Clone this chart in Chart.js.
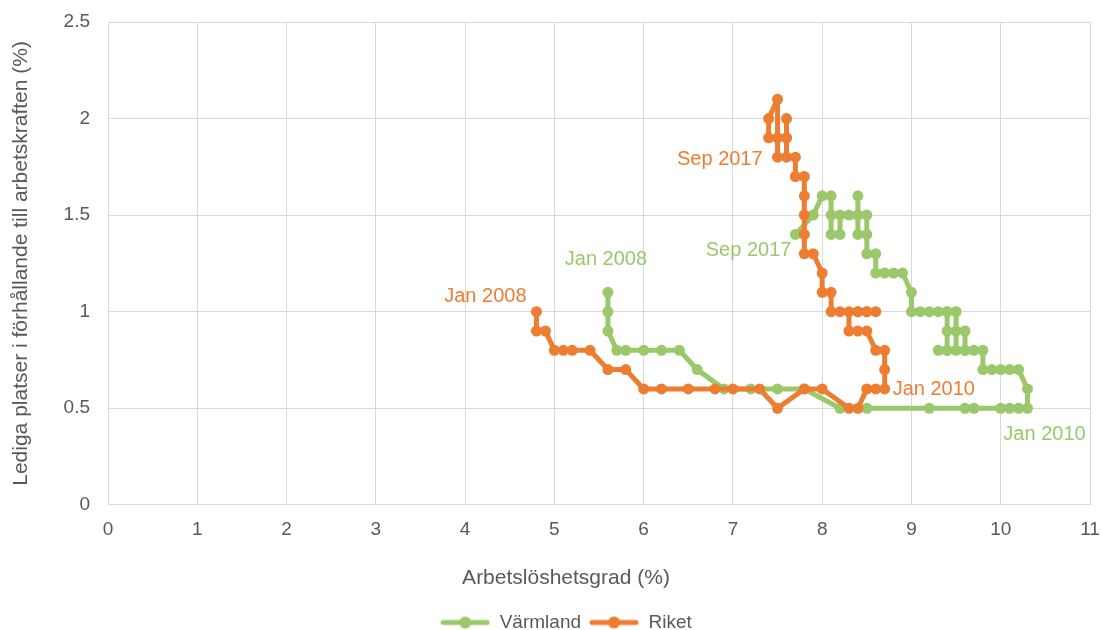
<!DOCTYPE html>
<html>
<head>
<meta charset="utf-8">
<script src="https://cdn.jsdelivr.net/npm/chart.js@4.4.1/dist/chart.umd.min.js"></script>
<style>
  html, body { margin: 0; padding: 0; background: #fff; }
  #wrap { width: 1102px; height: 630px; }
</style>
</head>
<body>
<div id="wrap"><canvas id="beveridge" width="1102" height="630"></canvas></div>
<script>
// Riket (Sweden), Jan 2008 -> Jan 2010 -> Sep 2017
const riketX = [4.8, 4.8, 4.9, 5.0, 5.1, 5.2, 5.4, 5.6, 5.8, 6.0, 6.2, 6.5, 6.8, 7.0, 7.3, 7.5, 7.8, 8.0, 8.3, 8.4, 8.5, 8.6, 8.7,
  8.7, 8.7, 8.6, 8.5, 8.4, 8.3, 8.3, 8.4, 8.5, 8.6, 8.5, 8.4, 8.2, 8.1, 8.1, 8.0, 8.0, 7.9, 7.8, 7.8, 7.8, 7.8, 7.8, 7.7, 7.7,
  7.6, 7.6, 7.6, 7.6, 7.5, 7.5, 7.5, 7.4, 7.4];
const riketY = [1.0, 0.9, 0.9, 0.8, 0.8, 0.8, 0.8, 0.7, 0.7, 0.6, 0.6, 0.6, 0.6, 0.6, 0.6, 0.5, 0.6, 0.6, 0.5, 0.5, 0.6, 0.6, 0.6,
  0.7, 0.8, 0.8, 0.9, 0.9, 0.9, 1.0, 1.0, 1.0, 1.0, 1.0, 1.0, 1.0, 1.0, 1.1, 1.1, 1.2, 1.3, 1.3, 1.4, 1.5, 1.6, 1.7, 1.7, 1.8,
  1.8, 1.9, 2.0, 1.9, 1.9, 1.8, 2.1, 2.0, 1.9];

// Värmland, same period
const varmlandX = [5.6, 5.6, 5.6, 5.7, 5.8, 6.0, 6.2, 6.4, 6.6, 6.9, 7.2, 7.5, 7.8, 8.2, 8.5, 9.2, 9.6, 9.7, 10.0, 10.1, 10.2, 10.3,
  10.3, 10.2, 10.1, 10.0, 9.9, 9.8, 9.8, 9.7, 9.6, 9.6, 9.6, 9.5, 9.5, 9.5, 9.4, 9.4, 9.4, 9.3, 9.4, 9.4, 9.3, 9.2, 9.1, 9.0, 9.0,
  8.9, 8.8, 8.7, 8.6, 8.6, 8.5, 8.5, 8.5, 8.4, 8.4, 8.4, 8.4, 8.3, 8.2, 8.2, 8.1, 8.1, 8.1, 8.0, 7.9, 7.7];
const varmlandY = [1.1, 1.0, 0.9, 0.8, 0.8, 0.8, 0.8, 0.8, 0.7, 0.6, 0.6, 0.6, 0.6, 0.5, 0.5, 0.5, 0.5, 0.5, 0.5, 0.5, 0.5, 0.5,
  0.6, 0.7, 0.7, 0.7, 0.7, 0.7, 0.8, 0.8, 0.8, 0.9, 0.8, 0.8, 0.9, 1.0, 1.0, 0.9, 0.8, 0.8, 0.8, 1.0, 1.0, 1.0, 1.0, 1.0, 1.1,
  1.2, 1.2, 1.2, 1.2, 1.3, 1.3, 1.4, 1.5, 1.5, 1.4, 1.6, 1.5, 1.5, 1.5, 1.4, 1.4, 1.5, 1.6, 1.6, 1.5, 1.4];

const seriesNames = ['Riket', 'Värmland'];
const xTicks = [0, 1, 2, 3, 4, 5, 6, 7, 8, 9, 10, 11];
const yTicks = [0, 0.5, 1, 1.5, 2, 2.5];
const periodLabels = ['Jan 2008', 'Jan 2010', 'Sep 2017'];

const ORANGE = '#ED7D31';
const GREEN = '#9BC86A';
const GREY = '#595959';
const FONT = "'Liberation Sans', Arial, sans-serif";

function toPoints(xs, ys) {
    return xs.map((x, i) => ({ x: x, y: ys[i] }));
}

// little line+dot swatch for the legend, like the office legend
function swatch(color) {
    const c = document.createElement('canvas');
    c.width = 50; c.height = 14;
    const g = c.getContext('2d');
    g.strokeStyle = color; g.lineWidth = 5; g.lineCap = 'round';
    g.beginPath(); g.moveTo(3, 7); g.lineTo(47, 7); g.stroke();
    g.fillStyle = color;
    g.beginPath(); g.arc(25, 7, 6, 0, Math.PI * 2); g.fill();
    return c;
}

// period labels next to chosen points: [dataset, index(-1 = last), text, align, dx, dy]
const labelSpots = [
    [0, 0, periodLabels[0], 'right', -10, -15],
    [0, 22, periodLabels[1], 'left', 8, 1],
    [0, -1, periodLabels[2], 'right', -6, 22],
    [1, 0, periodLabels[0], 'center', -2, -33],
    [1, 21, periodLabels[1], 'center', 17, 26],
    [1, -1, periodLabels[2], 'right', -4, 16]
];

const pointLabels = {
    id: 'pointLabels',
    afterDatasetsDraw(chart) {
        const ctx = chart.ctx;
        ctx.save();
        ctx.font = '20px ' + FONT;
        ctx.textBaseline = 'middle';
        labelSpots.forEach(s => {
            const meta = chart.getDatasetMeta(s[0]);
            const idx = s[1] < 0 ? meta.data.length - 1 : s[1];
            const pt = meta.data[idx];
            ctx.fillStyle = chart.data.datasets[s[0]].borderColor;
            ctx.textAlign = s[3];
            ctx.fillText(s[2], pt.x + s[4], pt.y + s[5]);
        });
        ctx.restore();
    }
};

function makeSet(name, xs, ys, color) {
    return {
        label: name,
        data: toPoints(xs, ys),
        showLine: true,
        borderColor: color,
        backgroundColor: color,
        borderWidth: 5,
        borderJoinStyle: 'round',
        borderCapStyle: 'round',
        pointRadius: 5.5,
        pointHoverRadius: 5.5,
        pointBorderWidth: 0,
        pointStyle: 'circle',
        tension: 0
    };
}

new Chart(document.getElementById('beveridge'), {
    type: 'scatter',
    data: {
        datasets: [
            makeSet(seriesNames[0], riketX, riketY, ORANGE),
            makeSet(seriesNames[1], varmlandX, varmlandY, GREEN)
        ]
    },
    options: {
        responsive: false,
        animation: false,
        layout: { padding: { top: 22, right: 0, left: 30, bottom: -12 } },
        scales: {
            x: {
                type: 'linear',
                min: 0, max: 11,
                afterBuildTicks: axis => { axis.ticks = xTicks.map(v => ({ value: v })); },
                afterFit: axis => { axis.height = 61; axis.paddingRight = 12; },
                grid: { color: '#D9D9D9', lineWidth: 1, drawTicks: false },
                border: { color: '#D9D9D9' },
                ticks: { color: GREY, font: { family: FONT, size: 19 }, padding: 14, callback: v => v }
            },
            y: {
                type: 'linear',
                min: 0, max: 2.5,
                afterBuildTicks: axis => { axis.ticks = yTicks.map(v => ({ value: v })); },
                afterFit: axis => { axis.width = 78; axis.paddingTop = 0; axis.paddingBottom = 0; },
                grid: { color: '#D9D9D9', lineWidth: 1, drawTicks: false },
                border: { color: '#D9D9D9' },
                ticks: { color: GREY, font: { family: FONT, size: 19 }, padding: 18, callback: v => v },
                title: {
                    display: true, text: 'Lediga platser i förhållande till arbetskraften (%)', color: GREY,
                    font: { family: FONT, size: 21 }, padding: { top: -21, bottom: 0 }
                }
            }
        },
        plugins: {
            title: {
                display: true,
                position: 'bottom',
                weight: 500,
                text: 'Arbetslöshetsgrad (%)',
                color: GREY,
                font: { family: FONT, size: 21, weight: 'normal' },
                padding: { top: 0, bottom: 14 }
            },
            legend: {
                position: 'bottom',
                reverse: true,
                labels: {
                    color: GREY,
                    font: { family: FONT, size: 19 },
                    usePointStyle: true,
                    pointStyleWidth: 50,
                    boxHeight: 14,
                    padding: 8,
                    generateLabels: chart => chart.data.datasets.map((ds, i) => ({
                        text: ds.label,
                        fontColor: GREY,
                        pointStyle: swatch(ds.borderColor),
                        datasetIndex: i,
                        hidden: false,
                        lineWidth: 0
                    }))
                }
            },
            tooltip: { enabled: false }
        }
    },
    plugins: [pointLabels]
});
</script>
</body>
</html>
